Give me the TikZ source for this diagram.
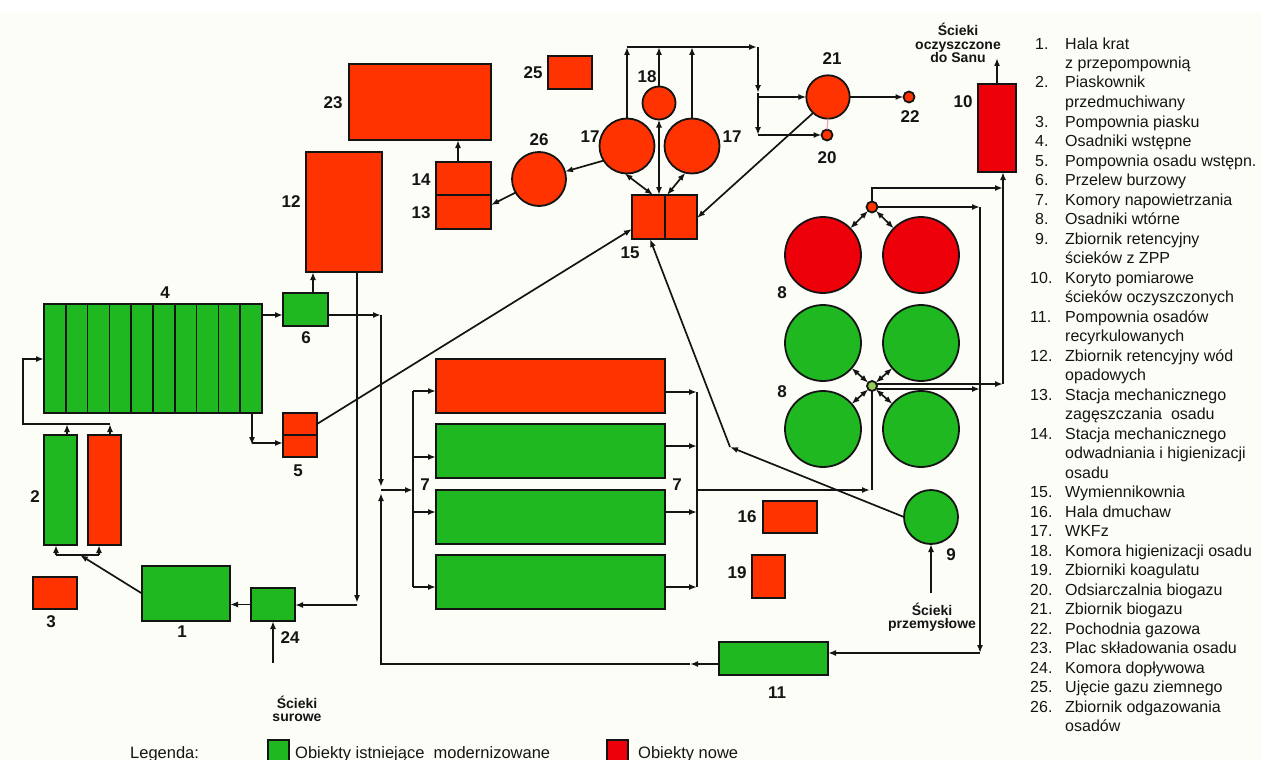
\documentclass[tikz,border=0pt]{standalone}
\usepackage{fontspec}
\setmainfont{Liberation Sans}
\usetikzlibrary{arrows.meta}
\definecolor{gr}{RGB}{32,184,32}
\definecolor{orr}{RGB}{255,51,0}
\definecolor{rd}{RGB}{238,0,10}
\definecolor{bgc}{RGB}{253,253,247}
\definecolor{lnc}{RGB}{20,20,20}
\definecolor{lgrn}{RGB}{150,205,90}
\definecolor{pk}{RGB}{240,160,180}
\newcommand{\mkbox}[6]{\node[obj, fill=#6, minimum width={#4pt-#2pt}, minimum height={#5pt-#3pt}] (#1) at ({(#2+#4)/2},{(#3+#5)/2}) {};}
\newcommand{\mkcirc}[5]{\node[objc, fill=#5, minimum size={2*#4pt}] (#1) at (#2,#3) {};}
\begin{document}
\begin{tikzpicture}[x=1pt,y=-1pt,
 obj/.style={draw=lnc, line width=1.8pt, inner sep=0pt, outer sep=0pt, rectangle},
 objc/.style={draw=lnc, line width=1.8pt, inner sep=0pt, outer sep=0pt, circle},
 wire/.style={draw=lnc, line width=1.7pt},
 arr/.style={wire, -{Latex[length=8pt,width=6pt]}},
 darr/.style={wire, {Latex[length=8pt,width=6pt]}-{Latex[length=8pt,width=6pt]}},
 lbl/.style={font=\bfseries\fontsize{17}{17}\selectfont, inner sep=0pt, text=lnc},
 ttl/.style={font=\bfseries\fontsize{14}{13.5}\selectfont, inner sep=0pt, align=center, text=lnc},
 lst/.style={font=\fontsize{16}{19.5}\selectfont, inner sep=0pt, anchor=base west, text=lnc},
 leg/.style={font=\fontsize{16.5}{16.5}\selectfont, inner sep=0pt, anchor=base west, text=lnc}
]
\useasboundingbox (0,0) rectangle (1261,760);
\fill[white] (0,0) rectangle (1261,760);
\fill[bgc] (0,12) rectangle (1261,760);

% ---------- objects ----------
\mkbox{n1}{142}{566}{230}{621}{gr}
\mkbox{n2a}{44}{435}{77}{545}{gr}
\mkbox{n2b}{88}{435}{121}{545}{orr}
\mkbox{n3}{33}{577}{77}{609}{orr}
\mkbox{n4}{44}{304}{262}{413}{gr}
\foreach \i in {1,...,9} \draw[wire] ({44+21.8*\i},304) -- ({44+21.8*\i},413);
\mkbox{n5}{283}{413}{317}{457}{orr}
\draw[wire] (n5.west) -- (n5.east);
\mkbox{n6}{283}{293}{328}{326}{gr}
\mkbox{n7a}{436}{359}{665}{413}{orr}
\mkbox{n7b}{436}{424}{665}{478}{gr}
\mkbox{n7c}{436}{490}{665}{544}{gr}
\mkbox{n7d}{436}{555}{665}{609}{gr}
\mkcirc{c8rl}{823}{255}{38}{rd}
\mkcirc{c8rr}{921}{255}{38}{rd}
\mkcirc{c8gul}{823}{343}{38}{gr}
\mkcirc{c8gur}{921}{343}{38}{gr}
\mkcirc{c8gll}{823}{429}{38}{gr}
\mkcirc{c8glr}{921}{429}{38}{gr}
\mkcirc{odot}{872}{207}{5.5}{orr}
\mkcirc{gdot}{872}{386}{5}{lgrn}
\mkcirc{n9}{931}{517}{27}{gr}
\mkbox{n10}{978}{84}{1016}{172}{rd}
\mkbox{n11}{719}{642}{828}{675}{gr}
\mkbox{n12}{306}{152}{382}{272}{orr}
\mkbox{n14}{436}{162}{491}{195}{orr}
\mkbox{n13}{436}{195}{491}{229}{orr}
\mkbox{n15a}{632}{195}{665}{239}{orr}
\mkbox{n15b}{665}{195}{697}{239}{orr}
\mkbox{n16}{763}{501}{817}{533}{orr}
\mkcirc{n17a}{627}{146}{27.5}{orr}
\mkcirc{n17b}{692}{146}{27.5}{orr}
\mkcirc{n18}{659}{103}{16.5}{orr}
\mkbox{n19}{752}{555}{785}{598}{orr}
\mkcirc{n20}{827}{135}{5.5}{orr}
\mkcirc{n21}{828}{97}{21.7}{orr}
\mkcirc{n22}{909}{97}{5.5}{orr}
\mkbox{n23}{349}{64}{491}{140}{orr}
\mkbox{n24}{251}{588}{295}{621}{gr}
\mkbox{n25}{548}{56}{592}{89}{orr}
\mkcirc{n26}{539}{179}{27}{orr}

% ---------- coordinates ----------
\coordinate (sIn) at (273,663);
\coordinate (j2) at (80,555);
\coordinate (b2l) at (56,555);
\coordinate (b2r) at (99,555);
\coordinate (t2a) at (67,424);
\coordinate (t2b) at (110,424);
\coordinate (lp1) at (23,424);
\coordinate (lp2) at (23,359);
\coordinate (j6) at (381,315);
\coordinate (j7t) at (381,487);
\coordinate (j7) at (381,490);
\coordinate (j7b) at (381,493);
\coordinate (bot) at (381,664);
\coordinate (a11) at (690,664);
\coordinate (d12) at (357,603);
\coordinate (d12b) at (357,605);
\coordinate (c45a) at (252,445);
\coordinate (c45b) at (252,443);
\coordinate (bus7) at (413,490);
\coordinate (bl1) at (413,391);
\coordinate (bl2) at (413,457);
\coordinate (bl3) at (413,512);
\coordinate (bl4) at (413,587);
\coordinate (br1) at (697,392);
\coordinate (br2) at (697,446);
\coordinate (br3) at (697,512);
\coordinate (br4) at (697,587);
\coordinate (o7) at (697,490);
\coordinate (g7) at (870,490);
\coordinate (o1) at (872,188);
\coordinate (o2) at (1003,188);
\coordinate (o3) at (980,207);
\coordinate (v980b) at (980,653);
\coordinate (g1) at (1003,384);
\coordinate (g2) at (980,389);
\coordinate (out10) at (997,58);
\coordinate (s9) at (931,593);
\coordinate (k9) at (730,447);
\coordinate (t1) at (627,47);
\coordinate (t2) at (659,47);
\coordinate (t3) at (692,47);
\coordinate (t4) at (757,47);
\coordinate (t5) at (758,47);
\coordinate (t6) at (758,93);
\coordinate (t7) at (758,135);
\coordinate (t8) at (758,97);

% ---------- connectors ----------
\draw[arr] (sIn) -- (n24.south);
\draw[arr] (n24.west) -- (n1.east |- n24.west);
\draw[arr] (n1.west) -- (j2);
\draw[wire] (b2l) -- (b2r);
\draw[arr] (b2l) -- (b2l |- n2a.south);
\draw[arr] (b2r) -- (b2r |- n2b.south);
\draw[arr] (t2a |- n2a.north) -- (t2a);
\draw[arr] (t2b |- n2b.north) -- (t2b);
\draw[arr] (t2b) -- (lp1) -- (lp2) -- (n4.west |- lp2);
\draw[arr] (n4.east |- j6) -- (n6.west |- j6);
\draw[arr] (n6.east |- j6) -- (j6);
\draw[arr] (j6) -- (j7t);
\draw[arr] (n6.north -| 313,0) -- (n12.south -| 313,0);
\draw[arr] (n12.south -| d12) -- (d12);
\draw[arr] (d12b) -- (n24.east |- d12b);
\draw[arr] (n4.south -| c45a) -- (c45a);
\draw[arr] (c45b) -- (n5.west |- c45b);
\draw[arr] (n5.east |- 0,424) -- (n15a.west |- 0,229);
\draw[arr] (n11.west |- a11) -- (a11);
\draw[arr] (a11) -- (bot) -- (j7b);
\draw[arr] (j7) -- (bus7);
\draw[wire] (bl1) -- (bl4);
\draw[arr] (bl1) -- (n7a.west |- bl1);
\draw[arr] (bl2) -- (n7b.west |- bl2);
\draw[arr] (bl3) -- (n7c.west |- bl3);
\draw[arr] (bl4) -- (n7d.west |- bl4);
\draw[arr] (n7a.east |- br1) -- (br1);
\draw[arr] (n7b.east |- br2) -- (br2);
\draw[arr] (n7c.east |- br3) -- (br3);
\draw[arr] (n7d.east |- br4) -- (br4);
\draw[wire] (br1) -- (br4);
\draw[arr] (o7) -- (g7);
\draw[wire] (gdot.south) -- (gdot.south |- g7);
\draw[darr] (gdot) -- (c8gul);
\draw[darr] (gdot) -- (c8gur);
\draw[darr] (gdot) -- (c8gll);
\draw[darr] (gdot) -- (c8glr);
\draw[darr] (odot) -- (c8rl);
\draw[darr] (odot) -- (c8rr);
\draw[arr] (odot.north) -- (o1) -- (o2);
\draw[arr] (odot.east) -- (o3);
\draw[arr] (o3) -- (v980b);
\draw[arr] (v980b) -- (n11.east |- v980b);
\draw[arr] (gdot.east |- g1) -- (g1);
\draw[arr] (gdot.east |- g2) -- (g2);
\draw[arr] (g1) -- (n10.south -| g1);
\draw[arr] (n10.north) -- (out10);
\draw[arr] (s9) -- (n9.south);
\draw[arr] (n9.west) -- (k9);
\draw[arr] (k9) -- (n15a.south -| 650,0);
\draw[arr] (n21.227) -- (n15b.east |- 0,218);
\draw[arr] (n21.east) -- (n22.west);
\draw[pk, line width=1.2pt] (n21.south) -- (n20.north);
\draw[arr] (n17a.north) -- (t1);
\draw[arr] (n18.north) -- (t2);
\draw[arr] (n17b.north) -- (t3);
\draw[arr] (t1) -- (t4);
\draw[arr] (t5) -- (t6);
\draw[arr] (t6) -- (t7);
\draw[arr] (t8) -- (n21.west);
\draw[arr] (t7) -- (n20.west);
\draw[darr] (n17a.-95) -- (n15a.north -| 653,0);
\draw[darr] (n18.south) -- (n18.south |- n15a.north);
\draw[darr] (n17b.-104) -- (n15b.north -| 667,0);
\draw[arr] (n17a.212) -- (n26);
\draw[arr] (n26.210) -- (n13.east |- 0,205);
\draw[arr] (n14.north -| 458,0) -- (n23.south -| 458,0);

% ---------- labels ----------
\node[lbl] (l1) at (182,632) {1};
\node[lbl] (l2) at (35,497) {2};
\node[lbl] (l3) at (51,622) {3};
\node[lbl] (l4) at (165,293) {4};
\node[lbl] (l5) at (298,471) {5};
\node[lbl] (l6) at (306,338) {6};
\node[lbl] (l7a) at (425,485) {7};
\node[lbl] (l7b) at (677,485) {7};
\node[lbl] (l8a) at (782,293) {8};
\node[lbl] (l8b) at (782,392) {8};
\node[lbl] (l9) at (951,555) {9};
\node[lbl] (l10) at (963,102) {10};
\node[lbl] (l11) at (777,693) {11};
\node[lbl] (l12) at (291,202) {12};
\node[lbl] (l13) at (421,213) {13};
\node[lbl] (l14) at (421,180) {14};
\node[lbl] (l15) at (630,253) {15};
\node[lbl] (l16) at (747,517) {16};
\node[lbl] (l17a) at (590,137) {17};
\node[lbl] (l17b) at (732,137) {17};
\node[lbl] (l18) at (647,77) {18};
\node[lbl] (l19) at (737,573) {19};
\node[lbl] (l20) at (827,158) {20};
\node[lbl] (l21) at (832,59) {21};
\node[lbl] (l22) at (910,117) {22};
\node[lbl] (l23) at (333,103) {23};
\node[lbl] (l24) at (290,638) {24};
\node[lbl] (l25) at (533,73) {25};
\node[lbl] (l26) at (539,140) {26};

\node[ttl] (tsan) at (958,43) {Ścieki\\oczyszczone\\do Sanu};
\node[ttl] (tsur) at (297,709) {Ścieki\\surowe};
\node[ttl] (tprz) at (932,617) {Ścieki\\przemysłowe};

% ---------- list ----------
\foreach \k/\x/\n/\t in {
 0/1035/1./Hala krat, 1/1035//z przepompownią,
 2/1035/2./Piaskownik, 3/1035//przedmuchiwany,
 4/1035/3./Pompownia piasku, 5/1035/4./Osadniki wstępne,
 6/1035/5./Pompownia osadu wstępn., 7/1035/6./Przelew burzowy,
 8/1035/7./Komory napowietrzania, 9/1035/8./Osadniki wtórne,
 10/1035/9./Zbiornik retencyjny, 11/1035//ścieków z ZPP,
 12/1030/10./Koryto pomiarowe, 13/1030//ścieków oczyszczonych,
 14/1030/11./Pompownia osadów, 15/1030//recyrkulowanych,
 16/1030/12./Zbiornik retencyjny wód, 17/1030//opadowych,
 18/1030/13./Stacja mechanicznego, 19/1030//zagęszczania\ \ osadu,
 20/1030/14./Stacja mechanicznego, 21/1030//odwadniania i higienizacji,
 22/1030//osadu, 23/1030/15./Wymiennikownia,
 24/1030/16./Hala dmuchaw, 25/1030/17./WKFz,
 26/1030/18./Komora higienizacji osadu, 27/1030/19./Zbiorniki koagulatu,
 28/1030/20./Odsiarczalnia biogazu, 29/1030/21./Zbiornik biogazu,
 30/1030/22./Pochodnia gazowa, 31/1030/23./Plac składowania osadu,
 32/1030/24./Komora dopływowa, 33/1030/25./Ujęcie gazu ziemnego,
 34/1030/26./Zbiornik odgazowania, 35/1030//osadów}
{
 \node[lst] (ln\k) at (\x,{49+19.5*\k}) {\n};
 \node[lst] (lt\k) at (1065,{49+19.5*\k}) {\t};
}

% ---------- legend ----------
\node[leg] (lgd) at (130,758) {Legenda:};
\mkbox{lgg}{268}{740}{289}{762}{gr}
\node[leg] (lgt1) at (295,758) {Obiekty istniejące\ \ modernizowane};
\mkbox{lgr}{607}{740}{628}{762}{rd}
\node[leg] (lgt2) at (638,758) {Obiekty nowe};
\end{tikzpicture}
\end{document}
